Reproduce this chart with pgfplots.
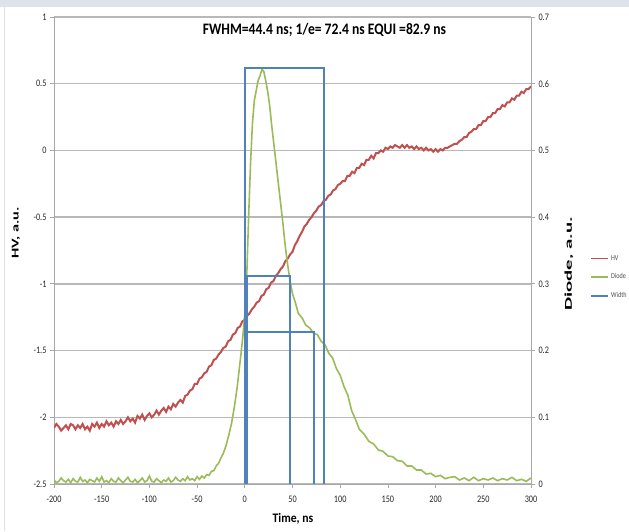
\documentclass[border=0pt]{standalone}
\usepackage{pgfplots}
\pgfplotsset{compat=1.18}
\usepackage{fontspec}
\setmainfont{Carlito}
\definecolor{hvred}{HTML}{C0504D}
\definecolor{dgreen}{HTML}{9BBB59}
\definecolor{wblue}{HTML}{4F81BD}
\definecolor{gridgray}{HTML}{B8B8B8}
\definecolor{axgray}{HTML}{A8A8A8}
\definecolor{band}{HTML}{DCE3EA}
\newcommand{\sq}[1]{\scalebox{0.82}[1]{#1}}
\pgfplotsset{
  common/.style={
    at={(54pt,47pt)}, anchor=south west, scale only axis,
    width=477pt, height=467pt, xmin=-200, xmax=300,
    axis line style={axgray, line width=1pt},
    tick style={axgray, line width=0.8pt},
    tick align=outside, major tick length=4pt,
    tick label style={font=\fontsize{10}{11}\selectfont, text=black!85},
  }
}
\begin{document}
\begin{tikzpicture}
\fill[band] (0pt,524pt) rectangle (629pt,531pt);
\draw[band, line width=0.8pt] (4pt,0pt) -- (4pt,524pt);
\begin{axis}[common,
  ymin=-2.5, ymax=1,
  axis y line*=left, axis x line*=bottom,
  xtick={-200,-150,-100,-50,0,50,100,150,200,250,300},
  xticklabels={\sq{-200},\sq{-150},\sq{-100},\sq{-50},\sq{0},\sq{50},\sq{100},\sq{150},\sq{200},\sq{250},\sq{300}},
  ytick={-2.5,-2,-1.5,-1,-0.5,0,0.5,1},
  yticklabels={\sq{-2.5},\sq{-2},\sq{-1.5},\sq{-1},\sq{-0.5},\sq{0},\sq{0.5},\sq{1}},
  ymajorgrids, grid style={gridgray, line width=1.4pt},
  xticklabel style={yshift=-4pt},
]
\addplot[hvred, line width=2pt] coordinates {
(-200,-2.08) (-197.5,-2.05) (-195,-2.07) (-192.5,-2.10) (-190,-2.08) (-187.5,-2.06) (-185,-2.09) (-182.5,-2.05) (-180,-2.06) (-177.5,-2.09)
(-175,-2.06) (-172.5,-2.08) (-170,-2.05) (-167.5,-2.09) (-165,-2.07) (-162.5,-2.10) (-160,-2.05) (-157.5,-2.07) (-155,-2.04) (-152.5,-2.08)
(-150,-2.05) (-147.5,-2.07) (-145,-2.03) (-142.5,-2.06) (-140,-2.04) (-137.5,-2.07) (-135,-2.03) (-132.5,-2.05) (-130,-2.02) (-127.5,-2.05)
(-125,-2.03) (-122.5,-2.00) (-120,-2.03) (-117.5,-2.01) (-115,-2.04) (-112.5,-1.99) (-110,-2.01) (-107.5,-1.98) (-105,-2.02) (-102.5,-1.99)
(-100,-1.97) (-97.5,-2.00) (-95,-1.98) (-92.5,-1.95) (-90,-1.98) (-87.5,-1.95) (-85,-1.93) (-82.5,-1.96) (-80,-1.92) (-77.5,-1.94)
(-75,-1.90) (-72.5,-1.92) (-70,-1.89) (-67.5,-1.87) (-65,-1.89) (-62.5,-1.84) (-60,-1.83) (-57.5,-1.80) (-55,-1.79) (-52.5,-1.75)
(-50,-1.75) (-47.5,-1.71) (-45,-1.70) (-42.5,-1.67) (-40,-1.66) (-37.5,-1.62) (-35,-1.61) (-32.5,-1.57) (-30,-1.56) (-27.5,-1.53)
(-25,-1.51) (-22.5,-1.48) (-20,-1.47) (-17.5,-1.43) (-15,-1.42) (-12.5,-1.38) (-10,-1.37) (-7.5,-1.33) (-5,-1.32) (-2.5,-1.28)
(0,-1.27) (2.5,-1.24) (5,-1.22) (7.5,-1.19) (10,-1.17) (12.5,-1.14) (15,-1.13) (17.5,-1.09) (20,-1.08) (22.5,-1.04)
(25,-1.03) (27.5,-0.99) (30,-0.98) (32.5,-0.94) (35,-0.92) (37.5,-0.89) (40,-0.87) (42.5,-0.83) (45,-0.81) (47.5,-0.78)
(50,-0.76) (52.5,-0.71) (55,-0.68) (57.5,-0.64) (60,-0.61) (62.5,-0.57) (65,-0.55) (67.5,-0.52) (70,-0.50) (72.5,-0.47)
(75,-0.45) (77.5,-0.42) (80,-0.41) (82.5,-0.38) (85,-0.37) (87.5,-0.34) (90,-0.33) (92.5,-0.30) (95,-0.29) (97.5,-0.26)
(100,-0.25) (102.5,-0.23) (105,-0.23) (107.5,-0.19) (110,-0.19) (112.5,-0.16) (115,-0.17) (117.5,-0.13) (120,-0.13) (122.5,-0.10)
(125,-0.11) (127.5,-0.07) (130,-0.07) (132.5,-0.04) (135,-0.06) (137.5,-0.02) (140,-0.02) (142.5,0.00) (145,-0.01) (147.5,0.02)
(150,0.01) (152.5,0.03) (155,0.02) (157.5,0.04) (160,0.03) (162.5,0.02) (165,0.04) (167.5,0.02) (170,0.04) (172.5,0.02)
(175,0.03) (177.5,0.01) (180,0.03) (182.5,0.01) (185,0.02) (187.5,0.00) (190,0.02) (192.5,0.00) (195,0.01) (197.5,-0.01)
(200,0.01) (202.5,-0.01) (205,0.01) (207.5,0.00) (210,0.02) (212.5,0.02) (215,0.03) (217.5,0.04) (220,0.05) (222.5,0.05)
(225,0.07) (227.5,0.08) (230,0.10) (232.5,0.10) (235,0.13) (237.5,0.14) (240,0.16) (242.5,0.16) (245,0.19) (247.5,0.19)
(250,0.22) (252.5,0.22) (255,0.25) (257.5,0.25) (260,0.28) (262.5,0.28) (265,0.31) (267.5,0.31) (270,0.34) (272.5,0.33)
(275,0.36) (277.5,0.36) (280,0.39) (282.5,0.38) (285,0.41) (287.5,0.41) (290,0.44) (292.5,0.43) (295,0.46) (297.5,0.46) (300,0.48)
};
\end{axis}
\begin{axis}[common,
  ymin=0, ymax=0.7,
  axis y line*=right, axis x line*=bottom,
  xtick=\empty,
  ytick={0,0.1,0.2,0.3,0.4,0.5,0.6,0.7},
  yticklabels={\sq{0},\sq{0.1},\sq{0.2},\sq{0.3},\sq{0.4},\sq{0.5},\sq{0.6},\sq{0.7}},
  legend style={draw=none, fill=none, at={(1.124,0.443)}, anchor=west,
    font=\fontsize{7.5}{8}\selectfont, inner sep=0pt, row sep=8pt,
    text=black!70},
  legend cell align=left,
  legend image code/.code={\draw[#1] (0pt,0pt) -- (17pt,0pt);},
  unbounded coords=jump,
]
\addlegendimage{hvred, line width=1.6pt}
\addlegendentry{\sq{HV}}
\addplot[dgreen, line width=1.6pt] coordinates {
(-200,0.006) (-197.5,0.002) (-195,0.004) (-192.5,0.009) (-190,0.005) (-187.5,0.003) (-185,0.007) (-182.5,0.002) (-180,0.008) (-177.5,0.004)
(-175,0.003) (-172.5,0.010) (-170,0.004) (-167.5,0.006) (-165,0.002) (-162.5,0.007) (-160,0.005) (-157.5,0.003) (-155,0.009) (-152.5,0.004)
(-150,0.011) (-147.5,0.003) (-145,0.005) (-142.5,0.002) (-140,0.008) (-137.5,0.004) (-135,0.003) (-132.5,0.009) (-130,0.005) (-127.5,0.002)
(-125,0.006) (-122.5,0.010) (-120,0.004) (-117.5,0.003) (-115,0.007) (-112.5,0.002) (-110,0.005) (-107.5,0.009) (-105,0.003) (-102.5,0.005)
(-100,0.012) (-97.5,0.004) (-95,0.003) (-92.5,0.008) (-90,0.005) (-87.5,0.002) (-85,0.006) (-82.5,0.004) (-80,0.009) (-77.5,0.003)
(-75,0.005) (-72.5,0.010) (-70,0.006) (-67.5,0.004) (-65,0.008) (-62.5,0.005) (-60,0.011) (-57.5,0.006) (-55,0.008) (-52.5,0.005)
(-50,0.011) (-47.5,0.007) (-45,0.012) (-42.5,0.009) (-40,0.014) (-37.5,0.013) (-35,0.019) (-32.5,0.020) (-30,0.027) (-27.5,0.031)
(-25,0.039) (-22.5,0.046) (-20,0.056) (-17,0.072) (-14,0.090) (-11,0.115)
(-8,0.145) (-6,0.170) (-4,0.195) (-2,0.222) (0,0.255) (2,0.31) (4,0.40) (6,0.48) (8,0.54) (10,0.575)
(12,0.59) (14,0.605) (16,0.612) (18,0.622) (20,0.618) (22,0.604) (24,0.588) (26,0.568) (28,0.54) (30,0.515)
(32,0.49) (34,0.465) (36,0.44) (38,0.415) (40,0.39) (42,0.362) (44,0.338) (46,0.318) (48,0.300) (50,0.285)
(53,0.272) (56,0.256) (60,0.249) (64,0.238) (68,0.234) (72,0.226) (76,0.224) (80,0.214) (84,0.209) (88,0.196)
(92,0.189) (96,0.173) (100,0.163) (104,0.146) (108,0.133) (112,0.110) (116,0.097) (120,0.082) (125,0.075) (130,0.064)
(135,0.060) (140,0.051) (145,0.049) (150,0.042) (155,0.041) (160,0.035) (165,0.034) (170,0.027) (175,0.027) (180,0.021)
(185,0.021) (190,0.015) (195,0.016) (200,0.011) (205,0.013) (210,0.008) (215,0.010) (220,0.011) (225,0.006) (230,0.009)
(235,0.005) (240,0.010) (245,0.005) (250,0.008) (255,0.006) (260,0.009) (265,0.005) (270,0.008) (275,0.006) (280,0.010)
(285,0.005) (290,0.007) (295,0.004) (300,0.009)
};
\addlegendentry{\sq{Diode}}
\addplot[wblue, line width=1.8pt] coordinates {
(0,0) (0,0.623) (82.6,0.623) (82.6,0) (nan,nan)
(2.6,0) (2.6,0.312) (47.0,0.312) (47.0,0) (nan,nan)
(1.5,0) (1.5,0.228) (72.2,0.228) (72.2,0)
};
\addlegendentry{\sq{Width}}
\end{axis}
\node[font=\bfseries\fontsize{16}{18}\selectfont] at (324.5pt,501pt) {\scalebox{0.85}[1]{FWHM=44.4 ns; 1/e= 72.4 ns EQUI =82.9 ns}};
\node[font=\bfseries\fontsize{13}{15}\selectfont, rotate=90] at (16pt,298pt) {\scalebox{1.25}[0.8]{HV, a.u.}};
\node[font=\bfseries\fontsize{13}{15}\selectfont, rotate=90] at (569pt,267pt) {\scalebox{1.6}[0.8]{Diode, a.u.}};
\node[font=\bfseries\fontsize{13}{15}\selectfont] at (293pt,12pt) {\scalebox{0.9}[1]{Time, ns}};
\pgfresetboundingbox
\path[use as bounding box] (0pt,0pt) rectangle (629pt,531pt);
\end{tikzpicture}
\end{document}
